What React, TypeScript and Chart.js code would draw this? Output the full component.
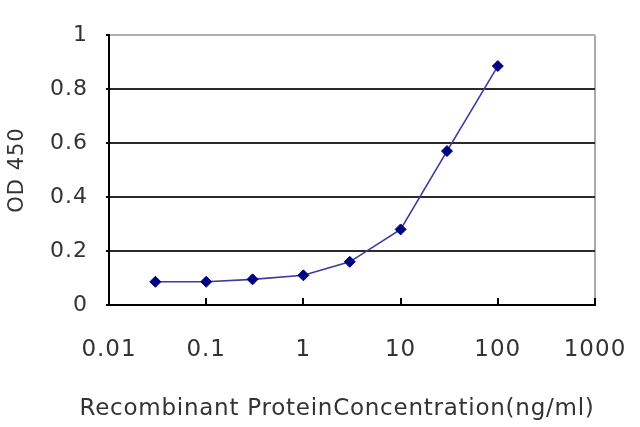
import React, { useEffect, useRef } from "react";
import { Chart, registerables } from "chart.js";

Chart.register(...registerables);

const concentrations = [0.03, 0.1, 0.3, 1, 3, 10, 30, 100];
const od450 = [0.086, 0.086, 0.095, 0.11, 0.16, 0.28, 0.57, 0.885];
const xTickValues = [0.01, 0.1, 1, 10, 100, 1000];
const xTickLabels = ["0.01", "0.1", "1", "10", "100", "1000"];
const yTickLabels = ["0", "0.2", "0.4", "0.6", "0.8", "1"];
const xTitle = "Recombinant ProteinConcentration(ng/ml)";
const yTitle = "OD 450";

const FONT = "'DejaVu Sans', 'Liberation Sans', Arial, sans-serif";

const spacing = {
  id: "spacing",
  beforeDraw(chart: any) {
    (chart.ctx as any).letterSpacing = "1px";
  },
};

const innerTicks = {
  id: "innerTicks",
  beforeDatasetsDraw(chart: any) {
    const { ctx, chartArea, scales } = chart;
    const xs = scales.x;
    ctx.save();
    ctx.strokeStyle = "#000";
    ctx.lineWidth = 2;
    xTickValues.slice(1).forEach((v) => {
      const px = Math.round(xs.getPixelForValue(v));
      ctx.beginPath();
      ctx.moveTo(px, chartArea.bottom);
      ctx.lineTo(px, chartArea.bottom - 7);
      ctx.stroke();
    });
    ctx.restore();
  },
};

// x-axis title drawn without Chart.js's maxWidth squeeze (the original title is wider than the plot)
const xAxisTitle = {
  id: "xAxisTitle",
  afterDraw(chart: any) {
    const { ctx, chartArea } = chart;
    ctx.save();
    (ctx as any).letterSpacing = "0.75px";
    ctx.font = `23px ${FONT}`;
    ctx.fillStyle = "#333";
    ctx.textAlign = "center";
    ctx.textBaseline = "middle";
    const cx = (chartArea.left + chartArea.right) / 2 - 15;
    ctx.fillText(xTitle, cx, chartArea.bottom + 104);
    ctx.restore();
  },
};

export default function App() {
  const canvasRef = useRef<HTMLCanvasElement | null>(null);

  useEffect(() => {
    if (!canvasRef.current) return;
    const chart = new Chart(canvasRef.current, {
      type: "line",
      data: {
        datasets: [
          {
            data: concentrations.map((c, i) => ({ x: c, y: od450[i] })),
            borderColor: "#3b3ba3",
            borderWidth: 1.6,
            backgroundColor: "#000080",
            pointStyle: "rectRot",
            pointRadius: 5.5,
            pointBorderColor: "#000080",
            pointBackgroundColor: "#000080",
            pointBorderWidth: 1,
            tension: 0,
          },
        ],
      },
      options: {
        animation: false,
        responsive: false,
        maintainAspectRatio: false,
        layout: { padding: { top: 35, right: 45, left: 0, bottom: 0 } },
        plugins: {
          legend: { display: false },
          tooltip: { enabled: false },
        },
        scales: {
          x: {
            type: "logarithmic",
            min: 0.01,
            max: 1000,
            afterBuildTicks: (s: any) => {
              s.ticks = xTickValues.map((v) => ({ value: v, major: true }));
            },
            afterFit: (s: any) => {
              s.height = 122;
              s.paddingLeft = 0;
              s.paddingRight = 0;
            },
            ticks: {
              autoSkip: false,
              maxRotation: 0,
              padding: 31,
              color: "#333",
              font: { family: FONT, size: 23 },
              callback: (_v: any, i: number) => xTickLabels[i],
            },
            grid: {
              drawTicks: false,
              lineWidth: 2,
              color: (c: any) => (c.tick && c.tick.value === 1000 ? "#aaaaaa" : "rgba(0,0,0,0)"),
            },
            border: { display: true, color: "#000", width: 2 },
            title: { display: false, text: xTitle },
          },
          y: {
            type: "linear",
            min: 0,
            max: 1,
            afterFit: (s: any) => {
              s.width = 109;
            },
            ticks: {
              stepSize: 0.2,
              padding: 18,
              color: "#333",
              font: { family: FONT, size: 22 },
              callback: (_v: any, i: number) => yTickLabels[i],
            },
            grid: {
              drawTicks: true,
              tickLength: 3,
              lineWidth: 2,
              color: (c: any) => (c.tick && c.tick.value === 1 ? "#b0b0b0" : "#2a2a2a"),
              tickColor: "#000",
            },
            border: { display: true, color: "#000", width: 2 },
            title: {
              display: true,
              text: yTitle,
              color: "#333",
              font: { family: FONT, size: 21 },
              padding: { top: 5, bottom: 0 },
            },
          },
        },
      },
      plugins: [spacing, innerTicks, xAxisTitle],
    });
    return () => chart.destroy();
  }, []);

  return (
    <div style={{ position: "fixed", left: 0, top: 0, width: 640, height: 427, background: "#fff" }}>
      <canvas ref={canvasRef} width={640} height={427} style={{ width: 640, height: 427 }} />
    </div>
  );
}
